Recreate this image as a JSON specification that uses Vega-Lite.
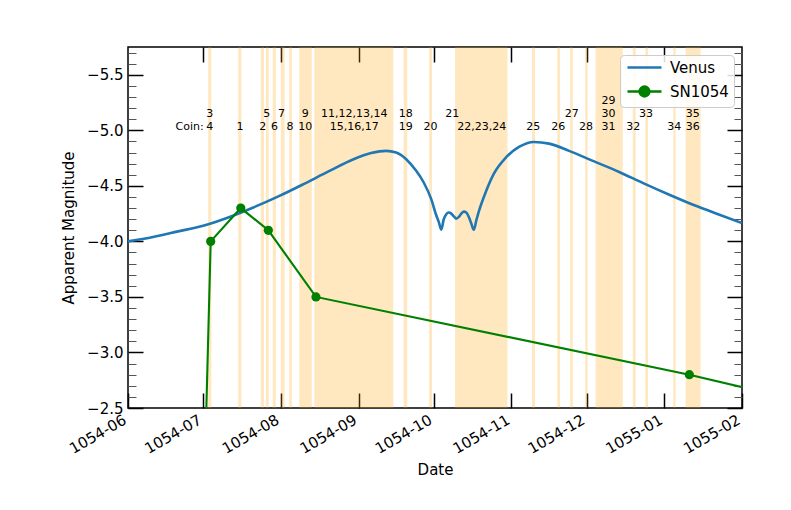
{
  "$schema": "https://vega.github.io/schema/vega-lite/v6.json",
  "width": 614,
  "height": 361,
  "autosize": {"type": "none"},
  "padding": {"left": 128, "top": 47, "right": 49, "bottom": 102},
  "background": "white",
  "config": {
    "font": "DejaVu Sans",
    "view": {"stroke": "black", "strokeWidth": 1.5},
    "axis": {
      "grid": false, "domain": false,
      "labelFont": "DejaVu Sans", "titleFont": "DejaVu Sans",
      "labelFontSize": 15, "titleFontSize": 15, "titleFontWeight": "normal",
      "labelColor": "black", "titleColor": "black", "tickColor": "black"
    },
    "legend": {
      "orient": "top-right", "offset": 8,
      "fillColor": "rgba(255,255,255,0.85)", "strokeColor": "#cccccc",
      "cornerRadius": 4, "padding": 5,
      "labelFont": "DejaVu Sans", "labelFontSize": 15, "labelColor": "black",
      "rowPadding": 5, "symbolSize": 100, "labelOffset": 30
    }
  },
  "datasets": {
    "bands": [
      {"start": "1054-07-03T00:00Z", "end": "1054-07-04T06:00Z"},
      {"start": "1054-07-15T00:00Z", "end": "1054-07-16T06:00Z"},
      {"start": "1054-07-24T00:00Z", "end": "1054-07-25T06:00Z"},
      {"start": "1054-07-26T00:00Z", "end": "1054-07-27T04:00Z"},
      {"start": "1054-07-28T18:00Z", "end": "1054-07-30T00:00Z"},
      {"start": "1054-08-01T00:00Z", "end": "1054-08-02T12:00Z"},
      {"start": "1054-08-04T08:00Z", "end": "1054-08-05T10:00Z"},
      {"start": "1054-08-08T08:00Z", "end": "1054-08-13T08:00Z"},
      {"start": "1054-08-14T08:00Z", "end": "1054-09-14T21:00Z"},
      {"start": "1054-09-19T00:00Z", "end": "1054-09-20T10:00Z"},
      {"start": "1054-09-29T04:00Z", "end": "1054-09-30T07:00Z"},
      {"start": "1054-10-09T12:00Z", "end": "1054-10-30T10:00Z"},
      {"start": "1054-11-09T05:00Z", "end": "1054-11-10T10:00Z"},
      {"start": "1054-11-19T07:00Z", "end": "1054-11-20T10:00Z"},
      {"start": "1054-11-24T10:00Z", "end": "1054-11-25T12:00Z"},
      {"start": "1054-11-30T10:00Z", "end": "1054-12-01T10:00Z"},
      {"start": "1054-12-04T14:00Z", "end": "1054-12-15T10:00Z"},
      {"start": "1054-12-19T10:00Z", "end": "1054-12-20T14:00Z"},
      {"start": "1054-12-24T10:00Z", "end": "1054-12-25T12:00Z"},
      {"start": "1055-01-04T14:00Z", "end": "1055-01-05T12:00Z"},
      {"start": "1055-01-09T12:00Z", "end": "1055-01-15T12:00Z"}
    ],
    "labels": [
      {"date": "1054-07-03T14:00Z", "level": -5.03, "text": "4"},
      {"date": "1054-07-03T14:00Z", "level": -5.145, "text": "3"},
      {"date": "1054-07-15T17:00Z", "level": -5.03, "text": "1"},
      {"date": "1054-07-24T18:00Z", "level": -5.03, "text": "2"},
      {"date": "1054-07-26T08:00Z", "level": -5.145, "text": "5"},
      {"date": "1054-07-29T10:00Z", "level": -5.03, "text": "6"},
      {"date": "1054-08-01T07:00Z", "level": -5.145, "text": "7"},
      {"date": "1054-08-04T15:00Z", "level": -5.03, "text": "8"},
      {"date": "1054-08-10T17:00Z", "level": -5.145, "text": "9"},
      {"date": "1054-08-10T17:00Z", "level": -5.03, "text": "10"},
      {"date": "1054-08-30T07:00Z", "level": -5.145, "text": "11,12,13,14"},
      {"date": "1054-08-30T07:00Z", "level": -5.03, "text": "15,16,17"},
      {"date": "1054-09-19T20:00Z", "level": -5.145, "text": "18"},
      {"date": "1054-09-19T20:00Z", "level": -5.03, "text": "19"},
      {"date": "1054-09-29T17:00Z", "level": -5.03, "text": "20"},
      {"date": "1054-10-08T10:00Z", "level": -5.145, "text": "21"},
      {"date": "1054-10-20T03:00Z", "level": -5.03, "text": "22,23,24"},
      {"date": "1054-11-09T17:00Z", "level": -5.03, "text": "25"},
      {"date": "1054-11-19T17:00Z", "level": -5.03, "text": "26"},
      {"date": "1054-11-25T01:00Z", "level": -5.145, "text": "27"},
      {"date": "1054-11-30T19:00Z", "level": -5.03, "text": "28"},
      {"date": "1054-12-09T17:00Z", "level": -5.26, "text": "29"},
      {"date": "1054-12-09T17:00Z", "level": -5.145, "text": "30"},
      {"date": "1054-12-09T17:00Z", "level": -5.03, "text": "31"},
      {"date": "1054-12-19T15:00Z", "level": -5.03, "text": "32"},
      {"date": "1054-12-24T17:00Z", "level": -5.145, "text": "33"},
      {"date": "1055-01-05T00:00Z", "level": -5.03, "text": "34"},
      {"date": "1055-01-12T08:00Z", "level": -5.145, "text": "35"},
      {"date": "1055-01-12T08:00Z", "level": -5.03, "text": "36"}
    ],
    "coinword": [
      {"date": "1054-07-03T14:00Z", "level": -5.03, "text": "Coin:"}
    ],
    "series": [
      {"series": "Venus", "date": "1054-06-01", "mag": -4.0},
      {"series": "Venus", "date": "1054-06-11", "mag": -4.04},
      {"series": "Venus", "date": "1054-06-21", "mag": -4.09},
      {"series": "Venus", "date": "1054-07-01", "mag": -4.14},
      {"series": "Venus", "date": "1054-07-11", "mag": -4.215},
      {"series": "Venus", "date": "1054-07-21", "mag": -4.305},
      {"series": "Venus", "date": "1054-07-31", "mag": -4.405},
      {"series": "Venus", "date": "1054-08-10", "mag": -4.515},
      {"series": "Venus", "date": "1054-08-20", "mag": -4.63},
      {"series": "Venus", "date": "1054-08-30", "mag": -4.74},
      {"series": "Venus", "date": "1054-09-06", "mag": -4.795},
      {"series": "Venus", "date": "1054-09-12", "mag": -4.815},
      {"series": "Venus", "date": "1054-09-16", "mag": -4.8},
      {"series": "Venus", "date": "1054-09-20", "mag": -4.74},
      {"series": "Venus", "date": "1054-09-24", "mag": -4.635},
      {"series": "Venus", "date": "1054-09-27", "mag": -4.53},
      {"series": "Venus", "date": "1054-09-30", "mag": -4.38},
      {"series": "Venus", "date": "1054-10-02", "mag": -4.235},
      {"series": "Venus", "date": "1054-10-03", "mag": -4.175},
      {"series": "Venus", "date": "1054-10-04", "mag": -4.105},
      {"series": "Venus", "date": "1054-10-05", "mag": -4.2},
      {"series": "Venus", "date": "1054-10-06", "mag": -4.245},
      {"series": "Venus", "date": "1054-10-07", "mag": -4.26},
      {"series": "Venus", "date": "1054-10-08", "mag": -4.25},
      {"series": "Venus", "date": "1054-10-09", "mag": -4.225},
      {"series": "Venus", "date": "1054-10-10", "mag": -4.205},
      {"series": "Venus", "date": "1054-10-11", "mag": -4.22},
      {"series": "Venus", "date": "1054-10-12", "mag": -4.25},
      {"series": "Venus", "date": "1054-10-13", "mag": -4.268},
      {"series": "Venus", "date": "1054-10-14", "mag": -4.26},
      {"series": "Venus", "date": "1054-10-15", "mag": -4.22},
      {"series": "Venus", "date": "1054-10-16", "mag": -4.16},
      {"series": "Venus", "date": "1054-10-17", "mag": -4.105},
      {"series": "Venus", "date": "1054-10-18", "mag": -4.19},
      {"series": "Venus", "date": "1054-10-19", "mag": -4.27},
      {"series": "Venus", "date": "1054-10-21", "mag": -4.4},
      {"series": "Venus", "date": "1054-10-25", "mag": -4.61},
      {"series": "Venus", "date": "1054-10-30", "mag": -4.76},
      {"series": "Venus", "date": "1054-11-04", "mag": -4.85},
      {"series": "Venus", "date": "1054-11-10", "mag": -4.895},
      {"series": "Venus", "date": "1054-11-16", "mag": -4.88},
      {"series": "Venus", "date": "1054-11-24", "mag": -4.815},
      {"series": "Venus", "date": "1054-12-04", "mag": -4.72},
      {"series": "Venus", "date": "1054-12-14", "mag": -4.625},
      {"series": "Venus", "date": "1054-12-24", "mag": -4.52},
      {"series": "Venus", "date": "1055-01-03", "mag": -4.42},
      {"series": "Venus", "date": "1055-01-13", "mag": -4.325},
      {"series": "Venus", "date": "1055-01-23", "mag": -4.24},
      {"series": "Venus", "date": "1055-02-01", "mag": -4.165},
      {"series": "SN1054", "date": "1054-07-01", "mag": -1.4},
      {"series": "SN1054", "date": "1054-07-04", "mag": -4.0},
      {"series": "SN1054", "date": "1054-07-16", "mag": -4.3},
      {"series": "SN1054", "date": "1054-07-27", "mag": -4.1},
      {"series": "SN1054", "date": "1054-08-15", "mag": -3.5},
      {"series": "SN1054", "date": "1055-01-11", "mag": -2.8},
      {"series": "SN1054", "date": "1055-03-01", "mag": -2.54}
    ]
  },
  "layer": [
    {
      "data": {"name": "bands"},
      "mark": {"type": "rect", "color": "orange", "opacity": 0.25},
      "encoding": {
        "x": {
          "field": "start", "type": "temporal",
          "scale": {"type": "utc", "domain": [{"year": 1054, "month": 6, "date": 1, "utc": true}, {"year": 1055, "month": 2, "date": 1, "utc": true}]},
          "axis": {
            "orient": "bottom",
            "values": [
              {"year": 1054, "month": 6, "date": 1, "utc": true},
              {"year": 1054, "month": 7, "date": 1, "utc": true},
              {"year": 1054, "month": 8, "date": 1, "utc": true},
              {"year": 1054, "month": 9, "date": 1, "utc": true},
              {"year": 1054, "month": 10, "date": 1, "utc": true},
              {"year": 1054, "month": 11, "date": 1, "utc": true},
              {"year": 1054, "month": 12, "date": 1, "utc": true},
              {"year": 1055, "month": 1, "date": 1, "utc": true},
              {"year": 1055, "month": 2, "date": 1, "utc": true}
            ],
            "labelExpr": "utcFormat(datum.value, '%Y-%m')",
            "labelAngle": -30, "labelAlign": "right", "labelBaseline": "top",
            "labelOverlap": false, "labelFlush": false, "labelOffset": -7,
            "tickSize": -15, "tickWidth": 1.5, "labelPadding": 19,
            "title": "Date", "titlePadding": 6
          }
        },
        "x2": {"field": "end"}
      }
    },
    {
      "data": {"name": "series"},
      "transform": [{"filter": "datum.series === 'Venus'"}],
      "mark": {"type": "line", "clip": true, "interpolate": "monotone", "strokeWidth": 2.6},
      "encoding": {
        "x": {
          "field": "date", "type": "temporal",
          "axis": {
            "orient": "top",
            "values": [
              {"year": 1054, "month": 7, "date": 1, "utc": true},
              {"year": 1054, "month": 8, "date": 1, "utc": true},
              {"year": 1054, "month": 9, "date": 1, "utc": true},
              {"year": 1054, "month": 10, "date": 1, "utc": true},
              {"year": 1054, "month": 11, "date": 1, "utc": true},
              {"year": 1054, "month": 12, "date": 1, "utc": true},
              {"year": 1055, "month": 1, "date": 1, "utc": true}
            ],
            "labels": false, "tickSize": -15, "tickWidth": 1.5, "title": null
          }
        },
        "y": {
          "field": "mag", "type": "quantitative",
          "scale": {"domain": [-5.75, -2.5], "reverse": true, "nice": false, "zero": false},
          "axis": {
            "orient": "left",
            "values": [-5.7, -5.6, -5.5, -5.4, -5.3, -5.2, -5.1, -5.0, -4.9, -4.8, -4.7, -4.6, -4.5, -4.4, -4.3, -4.2, -4.1, -4.0, -3.9, -3.8, -3.7, -3.6, -3.5, -3.4, -3.3, -3.2, -3.1, -3.0, -2.9, -2.8, -2.7, -2.6, -2.5],
            "format": ".1f",
            "labelExpr": "abs(datum.value*2 - round(datum.value*2)) < 0.01 ? datum.label : ''",
            "labelOverlap": false, "labelFlush": false,
            "tickSize": {"condition": {"test": "abs(datum.value*2 - round(datum.value*2)) < 0.01", "value": -15}, "value": -8},
            "tickWidth": {"condition": {"test": "abs(datum.value*2 - round(datum.value*2)) < 0.01", "value": 1.5}, "value": 1},
            "tickColor": {"condition": {"test": "abs(datum.value*2 - round(datum.value*2)) < 0.01", "value": "black"}, "value": "#555555"},
            "labelPadding": 20,
            "title": "Apparent Magnitude", "titlePadding": 10
          }
        },
        "color": {
          "field": "series", "type": "nominal",
          "scale": {"domain": ["Venus", "SN1054"], "range": ["#1f77b4", "green"]},
          "legend": {
            "title": null,
            "encode": {
              "symbols": {
                "update": {
                  "shape": {"signal": "datum.value === 'SN1054' ? 'M-1,0L5.8,0M1.4,0A1,1,0,1,0,3.4,0A1,1,0,1,0,1.4,0Z' : 'M-1,0L5.8,0'"},
                  "fill": {"signal": "datum.value === 'SN1054' ? 'green' : 'transparent'"},
                  "strokeWidth": {"value": 2.3}
                }
              }
            }
          }
        }
      }
    },
    {
      "data": {"name": "series"},
      "transform": [{"filter": "datum.series === 'SN1054'"}],
      "mark": {"type": "line", "clip": true, "strokeWidth": 2.1},
      "encoding": {
        "x": {"field": "date", "type": "temporal", "axis": null},
        "y": {"field": "mag", "type": "quantitative", "axis": null},
        "color": {"field": "series", "type": "nominal"}
      }
    },
    {
      "data": {"name": "series"},
      "transform": [{"filter": "datum.series === 'SN1054'"}],
      "mark": {"type": "point", "filled": true, "color": "green", "size": 85, "opacity": 1, "clip": true},
      "encoding": {
        "x": {"field": "date", "type": "temporal", "axis": null},
        "y": {
          "field": "mag", "type": "quantitative",
          "axis": {
            "orient": "right",
            "values": [-5.7, -5.6, -5.5, -5.4, -5.3, -5.2, -5.1, -5.0, -4.9, -4.8, -4.7, -4.6, -4.5, -4.4, -4.3, -4.2, -4.1, -4.0, -3.9, -3.8, -3.7, -3.6, -3.5, -3.4, -3.3, -3.2, -3.1, -3.0, -2.9, -2.8, -2.7, -2.6, -2.5],
            "labels": false,
            "tickSize": {"condition": {"test": "abs(datum.value*2 - round(datum.value*2)) < 0.01", "value": -15}, "value": -8},
            "tickWidth": {"condition": {"test": "abs(datum.value*2 - round(datum.value*2)) < 0.01", "value": 1.5}, "value": 1},
            "tickColor": {"condition": {"test": "abs(datum.value*2 - round(datum.value*2)) < 0.01", "value": "black"}, "value": "#555555"},
            "title": null
          }
        }
      }
    },
    {
      "data": {"name": "labels"},
      "mark": {"type": "text", "fontSize": 11, "font": "DejaVu Sans", "color": "black", "align": "center", "baseline": "middle"},
      "encoding": {
        "x": {"field": "date", "type": "temporal", "axis": null},
        "y": {"field": "level", "type": "quantitative", "axis": null},
        "text": {"field": "text", "type": "nominal"}
      }
    },
    {
      "data": {"name": "coinword"},
      "mark": {"type": "text", "fontSize": 11, "font": "DejaVu Sans", "color": "black", "align": "right", "baseline": "middle", "dx": -6},
      "encoding": {
        "x": {"field": "date", "type": "temporal", "axis": null},
        "y": {"field": "level", "type": "quantitative", "axis": null},
        "text": {"field": "text", "type": "nominal"}
      }
    }
  ],
  "resolve": {"axis": {"x": "independent", "y": "independent"}}
}
